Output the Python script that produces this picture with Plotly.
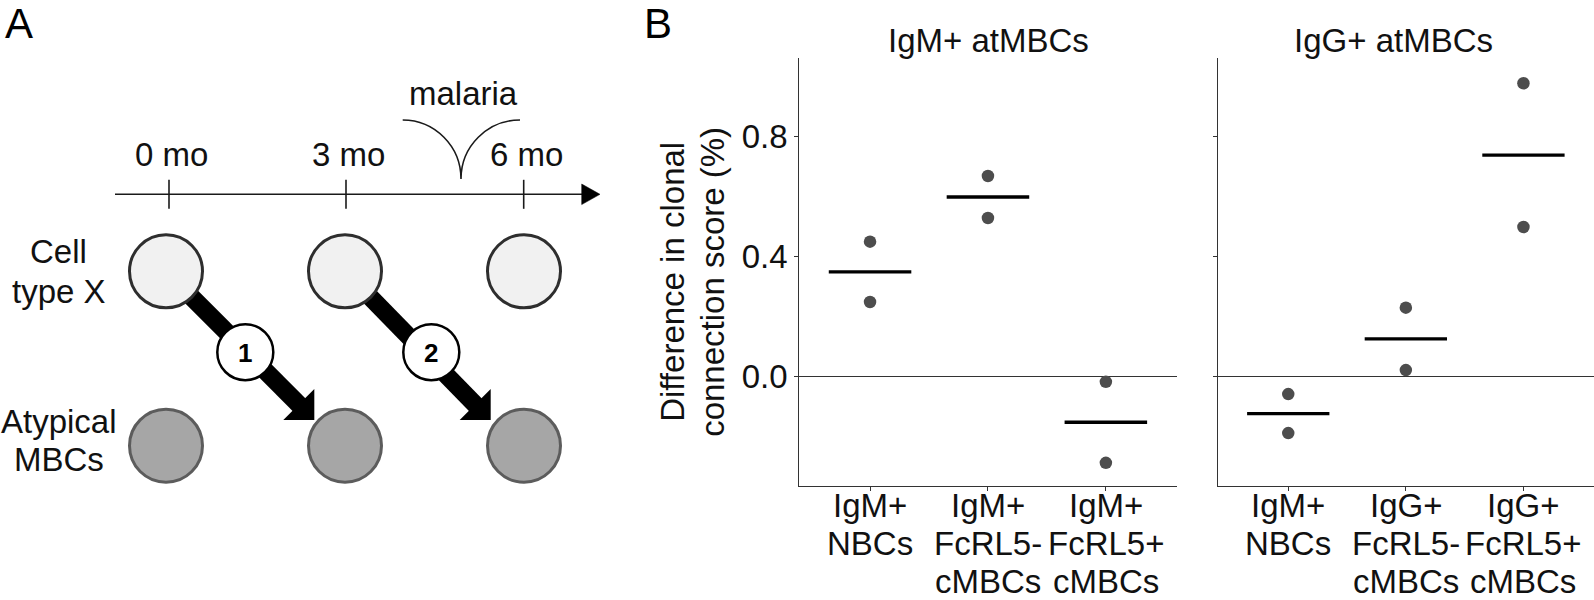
import numpy as np
import plotly.graph_objects as go

# ------------------------------------------------------------------ data
LEFT_TITLE = "IgM+ atMBCs"
RIGHT_TITLE = "IgG+ atMBCs"
LEFT_CATEGORIES = ["IgM+ NBCs", "IgM+ FcRL5- cMBCs", "IgM+ FcRL5+ cMBCs"]
RIGHT_CATEGORIES = ["IgM+ NBCs", "IgG+ FcRL5- cMBCs", "IgG+ FcRL5+ cMBCs"]
LEFT_DONOR_A = [0.450, 0.669, -0.017]
LEFT_DONOR_B = [0.249, 0.529, -0.287]
RIGHT_DONOR_A = [-0.058, 0.230, 0.978]
RIGHT_DONOR_B = [-0.188, 0.022, 0.499]
Y_TICKS = [0.0, 0.4, 0.8]
Y_TICK_LABELS = ["0.0", "0.4", "0.8"]
Y_TITLE_LINES = ["Difference in clonal", "connection score (%)"]

# schematic (panel A) text
TIMEPOINTS = ["0 mo", "3 mo", "6 mo"]
ROW_LABELS = [["Cell", "type X"], ["Atypical", "MBCs"]]
EVENT_LABEL = "malaria"
STEP_LABELS = ["1", "2"]
PANEL_LETTERS = ["A", "B"]

# ------------------------------------------------------------------ layout constants
W, H = 1594, 600
FONT = "Liberation Sans, Arial, sans-serif"
FS = 33
INK = "#111111"
AX = "#333333"


def center_from_baseline(baseline, size):
    return baseline - 0.3465 * size


Y_RANGE = [-0.3633, 1.0613]
X_RANGE = [-0.6, 2.6]
Y_DOM = [1 - 485.7 / H, 1 - 58.3 / H]
LEFT_DOM = [799.3 / W, 1176.6 / W]
RIGHT_DOM = [1217.7 / W, 1.0]

fig = go.Figure()

panels = [
    ("x", "y", LEFT_CATEGORIES, LEFT_DONOR_A, LEFT_DONOR_B),
    ("x2", "y2", RIGHT_CATEGORIES, RIGHT_DONOR_A, RIGHT_DONOR_B),
]
annotations = []
for xa, ya, cats, va, vb in panels:
    idx = list(range(len(cats)))
    xs, ys = [], []
    for i in idx:
        xs += [i, i]
        ys += [va[i], vb[i]]
    means = [float(np.mean([va[i], vb[i]])) for i in idx]
    mx, my = [], []
    for i in idx:
        mx += [i - 0.35, i + 0.35, None]
        my += [means[i], means[i], None]
    fig.add_trace(go.Scatter(x=mx, y=my, mode="lines", xaxis=xa, yaxis=ya,
                             line=dict(color="black", width=3.4),
                             showlegend=False, hoverinfo="skip"))
    fig.add_trace(go.Scatter(x=xs, y=ys, mode="markers", xaxis=xa, yaxis=ya,
                             marker=dict(color="#4d4d4d", size=12.5, line=dict(width=0)),
                             showlegend=False))
    # category labels, one line per row (ggplot-like tight line height)
    for i, c in enumerate(cats):
        for k, line in enumerate(c.split(" ")):
            base = 517.0 + 38.0 * k
            annotations.append(dict(x=i, xref=xa, y=center_from_baseline(base, FS), yref="y3",
                                    text=line, showarrow=False, xanchor="center", yanchor="middle",
                                    font=dict(size=FS, color=INK, family=FONT)))

axis_common = dict(showline=True, linecolor=AX, linewidth=1.2, ticks="outside", ticklen=4,
                   tickcolor=AX, tickwidth=1.2, showgrid=False, zeroline=False, fixedrange=True)

fig.update_layout(
    xaxis=dict(domain=LEFT_DOM, range=X_RANGE, tickvals=[0, 1, 2], showticklabels=False,
               anchor="y", **axis_common),
    yaxis=dict(domain=Y_DOM, range=Y_RANGE, tickvals=Y_TICKS, ticktext=Y_TICK_LABELS,
               tickfont=dict(size=FS, color=INK, family=FONT), anchor="x",
               **{**axis_common, "zeroline": True}, zerolinecolor=AX, zerolinewidth=1.2),
    xaxis2=dict(domain=RIGHT_DOM, range=X_RANGE, tickvals=[0, 1, 2], showticklabels=False,
                anchor="y2", **axis_common),
    yaxis2=dict(domain=Y_DOM, range=Y_RANGE, tickvals=Y_TICKS, showticklabels=False,
                anchor="x2", **{**axis_common, "zeroline": True}, zerolinecolor=AX,
                zerolinewidth=1.2),
    # full-figure pixel canvas for the schematic and free text
    xaxis3=dict(domain=[0, 1], range=[0, W], visible=False, anchor="y3", fixedrange=True),
    yaxis3=dict(domain=[0, 1], range=[H, 0], visible=False, anchor="x3", fixedrange=True),
)
fig.add_trace(go.Scatter(x=[None], y=[None], xaxis="x3", yaxis="y3", showlegend=False,
                         hoverinfo="skip"))

# ------------------------------------------------------------------ panel B free text
annotations.append(dict(x=988.5, y=center_from_baseline(51.7, FS), text=LEFT_TITLE))
annotations.append(dict(x=1393, y=center_from_baseline(51.7, FS), text=RIGHT_TITLE))
for k, (line, base) in enumerate(zip(Y_TITLE_LINES, [683.3, 723.3])):
    annotations.append(dict(x=base - 0.3465 * FS, y=282, text=line, textangle=-90))

# ------------------------------------------------------------------ panel A schematic
TL_Y, TL_X0, TL_X1 = 194.3, 115, 600
HEAD_LEN, HEAD_HALF = 18.3, 10.3
TICK_X = [169, 346, 523.7]
TICK_HALF = 14.5
CIRCLE_X = [166, 345, 524]
ROW_Y = [271.3, 445.7]
R = 36.5
ARROW_TIPS = [(314.3, 420.0), (490.7, 420.0)]
HEAD_LEG = 31
SHAFT_W = 18
STEP_CENTERS = [(245.3, 352.2), (431.3, 352.2)]
STEP_R = 28

shapes = []
c3 = dict(xref="x3", yref="y3")
# timeline
shapes.append(dict(type="line", x0=TL_X0, x1=TL_X1 - HEAD_LEN + 1, y0=TL_Y, y1=TL_Y,
                   line=dict(color="#1a1a1a", width=1.6), **c3))
shapes.append(dict(type="path",
                   path=f"M {TL_X1-HEAD_LEN},{TL_Y-HEAD_HALF} L {TL_X1},{TL_Y} L {TL_X1-HEAD_LEN},{TL_Y+HEAD_HALF} Z",
                   fillcolor="black", line=dict(color="black", width=0.5), **c3))
for tx in TICK_X:
    shapes.append(dict(type="line", x0=tx, x1=tx, y0=TL_Y - TICK_HALF, y1=TL_Y + TICK_HALF,
                       line=dict(color="#1a1a1a", width=1.6), **c3))
# malaria bracket (two quarter arcs meeting in a point)
bl, br, bt, bx, bb = 402.7, 520.0, 120.0, 461.0, 179.0
kx = 0.5523
path = (f"M {bl},{bt} C {bl + kx*(bx-bl)},{bt} {bx},{bb - kx*(bb-bt)} {bx},{bb} "
        f"M {br},{bt} C {br - kx*(br-bx)},{bt} {bx},{bb - kx*(bb-bt)} {bx},{bb}")
shapes.append(dict(type="path", path=path, line=dict(color="#1a1a1a", width=1.6), **c3))

# arrows (drawn first so the circles sit on top)
for k, (tx, ty) in enumerate(ARROW_TIPS):
    sx, sy = CIRCLE_X[k], ROW_Y[0]
    bxm, bym = tx - HEAD_LEG / 2, ty - HEAD_LEG / 2
    d = np.array([bxm - sx, bym - sy])
    d = d / np.linalg.norm(d)
    n = np.array([-d[1], d[0]]) * SHAFT_W / 2
    ex, ey = bxm + d[0] * 2, bym + d[1] * 2
    pts = [(sx + n[0], sy + n[1]), (ex + n[0], ey + n[1]), (ex - n[0], ey - n[1]), (sx - n[0], sy - n[1])]
    shapes.append(dict(type="path", path="M " + " L ".join(f"{a:.2f},{b:.2f}" for a, b in pts) + " Z",
                       fillcolor="black", line=dict(width=0), **c3))
    shapes.append(dict(type="path",
                       path=f"M {tx},{ty} L {tx-HEAD_LEG},{ty} L {tx},{ty-HEAD_LEG} Z",
                       fillcolor="black", line=dict(width=0), **c3))

# cell circles
row_styles = [("#f1f1f1", "#2e2e2e"), ("#a6a6a6", "#5c5c5c")]
for r, cy in enumerate(ROW_Y):
    fill, stroke = row_styles[r]
    for cx in CIRCLE_X:
        shapes.append(dict(type="circle", x0=cx - R, x1=cx + R, y0=cy - R, y1=cy + R,
                           fillcolor=fill, line=dict(color=stroke, width=3), **c3))
# numbered step circles
for (cx, cy) in STEP_CENTERS:
    shapes.append(dict(type="circle", x0=cx - STEP_R, x1=cx + STEP_R, y0=cy - STEP_R, y1=cy + STEP_R,
                       fillcolor="white", line=dict(color="black", width=2.5), **c3))

# schematic text
for lab, tx in zip(TIMEPOINTS, TICK_X):
    annotations.append(dict(x=tx + 2.5, y=center_from_baseline(166, FS), text=lab))
annotations.append(dict(x=463.3, y=center_from_baseline(105, FS), text=EVENT_LABEL))
for lines, bases in zip(ROW_LABELS, [[262.7, 302.7], [433.0, 471.0]]):
    for line, base in zip(lines, bases):
        annotations.append(dict(x=58.5, y=center_from_baseline(base, FS), text=line))
for lab, (cx, cy) in zip(STEP_LABELS, STEP_CENTERS):
    annotations.append(dict(x=cx, y=cy + 0.5, text=f"<b>{lab}</b>", font=dict(size=26, color="black", family=FONT)))
annotations.append(dict(x=4, y=center_from_baseline(38.5, 42), text=PANEL_LETTERS[0], xanchor="left",
                        font=dict(size=42, color="black", family=FONT)))
annotations.append(dict(x=643, y=center_from_baseline(38.5, 42), text=PANEL_LETTERS[1], xanchor="left",
                        font=dict(size=42, color="black", family=FONT)))

final_ann = []
for a in annotations:
    base = dict(xref="x3", yref="y3", showarrow=False, xanchor="center", yanchor="middle",
                font=dict(size=FS, color=INK, family=FONT), borderpad=0)
    base.update(a)
    final_ann.append(base)

fig.update_layout(
    width=W, height=H, autosize=False,
    margin=dict(l=0, r=0, t=0, b=0),
    paper_bgcolor="white", plot_bgcolor="rgba(0,0,0,0)",
    font=dict(family=FONT, color=INK),
    shapes=shapes, annotations=final_ann, showlegend=False,
)

# the page body has a default 8px margin; remove it so the figure fills the window exactly
fig.write_html("out.html", config={"displayModeBar": False},
               post_script="document.body.style.margin='0';document.body.style.overflow='hidden';")
